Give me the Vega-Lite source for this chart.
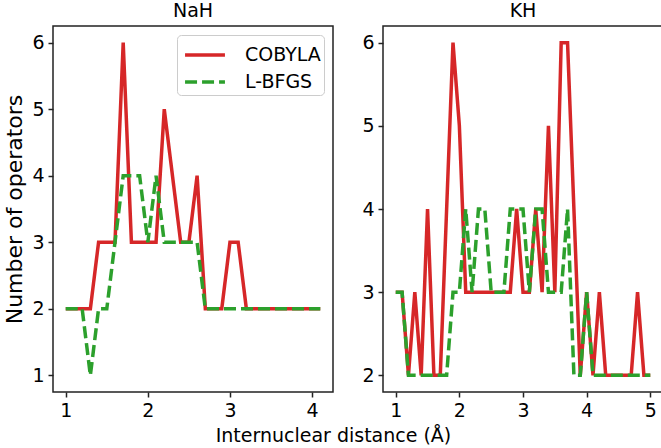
{
  "$schema": "https://vega.github.io/schema/vega-lite/v6.json",
  "padding": {"left": 3, "top": 1, "right": 3, "bottom": 3},
  "background": "white",
  "datasets": {
    "ops": [
      {"mol": "NaH", "method": "COBYLA", "d": 1.0, "n": 2},
      {"mol": "NaH", "method": "COBYLA", "d": 1.1, "n": 2},
      {"mol": "NaH", "method": "COBYLA", "d": 1.2, "n": 2},
      {"mol": "NaH", "method": "COBYLA", "d": 1.3, "n": 2},
      {"mol": "NaH", "method": "COBYLA", "d": 1.4, "n": 3},
      {"mol": "NaH", "method": "COBYLA", "d": 1.5, "n": 3},
      {"mol": "NaH", "method": "COBYLA", "d": 1.6, "n": 3},
      {"mol": "NaH", "method": "COBYLA", "d": 1.7, "n": 6},
      {"mol": "NaH", "method": "COBYLA", "d": 1.8, "n": 3},
      {"mol": "NaH", "method": "COBYLA", "d": 1.9, "n": 3},
      {"mol": "NaH", "method": "COBYLA", "d": 2.0, "n": 3},
      {"mol": "NaH", "method": "COBYLA", "d": 2.1, "n": 3},
      {"mol": "NaH", "method": "COBYLA", "d": 2.2, "n": 5},
      {"mol": "NaH", "method": "COBYLA", "d": 2.3, "n": 4},
      {"mol": "NaH", "method": "COBYLA", "d": 2.4, "n": 3},
      {"mol": "NaH", "method": "COBYLA", "d": 2.5, "n": 3},
      {"mol": "NaH", "method": "COBYLA", "d": 2.6, "n": 4},
      {"mol": "NaH", "method": "COBYLA", "d": 2.7, "n": 2},
      {"mol": "NaH", "method": "COBYLA", "d": 2.8, "n": 2},
      {"mol": "NaH", "method": "COBYLA", "d": 2.9, "n": 2},
      {"mol": "NaH", "method": "COBYLA", "d": 3.0, "n": 3},
      {"mol": "NaH", "method": "COBYLA", "d": 3.1, "n": 3},
      {"mol": "NaH", "method": "COBYLA", "d": 3.2, "n": 2},
      {"mol": "NaH", "method": "COBYLA", "d": 3.3, "n": 2},
      {"mol": "NaH", "method": "COBYLA", "d": 3.4, "n": 2},
      {"mol": "NaH", "method": "COBYLA", "d": 3.5, "n": 2},
      {"mol": "NaH", "method": "COBYLA", "d": 3.6, "n": 2},
      {"mol": "NaH", "method": "COBYLA", "d": 3.7, "n": 2},
      {"mol": "NaH", "method": "COBYLA", "d": 3.8, "n": 2},
      {"mol": "NaH", "method": "COBYLA", "d": 3.9, "n": 2},
      {"mol": "NaH", "method": "COBYLA", "d": 4.0, "n": 2},
      {"mol": "NaH", "method": "COBYLA", "d": 4.1, "n": 2},
      {"mol": "NaH", "method": "L-BFGS", "d": 1.0, "n": 2},
      {"mol": "NaH", "method": "L-BFGS", "d": 1.1, "n": 2},
      {"mol": "NaH", "method": "L-BFGS", "d": 1.2, "n": 2},
      {"mol": "NaH", "method": "L-BFGS", "d": 1.3, "n": 1},
      {"mol": "NaH", "method": "L-BFGS", "d": 1.4, "n": 2},
      {"mol": "NaH", "method": "L-BFGS", "d": 1.5, "n": 2},
      {"mol": "NaH", "method": "L-BFGS", "d": 1.6, "n": 3},
      {"mol": "NaH", "method": "L-BFGS", "d": 1.7, "n": 4},
      {"mol": "NaH", "method": "L-BFGS", "d": 1.8, "n": 4},
      {"mol": "NaH", "method": "L-BFGS", "d": 1.9, "n": 4},
      {"mol": "NaH", "method": "L-BFGS", "d": 2.0, "n": 3},
      {"mol": "NaH", "method": "L-BFGS", "d": 2.1, "n": 4},
      {"mol": "NaH", "method": "L-BFGS", "d": 2.2, "n": 3},
      {"mol": "NaH", "method": "L-BFGS", "d": 2.3, "n": 3},
      {"mol": "NaH", "method": "L-BFGS", "d": 2.4, "n": 3},
      {"mol": "NaH", "method": "L-BFGS", "d": 2.5, "n": 3},
      {"mol": "NaH", "method": "L-BFGS", "d": 2.6, "n": 3},
      {"mol": "NaH", "method": "L-BFGS", "d": 2.7, "n": 2},
      {"mol": "NaH", "method": "L-BFGS", "d": 2.8, "n": 2},
      {"mol": "NaH", "method": "L-BFGS", "d": 2.9, "n": 2},
      {"mol": "NaH", "method": "L-BFGS", "d": 3.0, "n": 2},
      {"mol": "NaH", "method": "L-BFGS", "d": 3.1, "n": 2},
      {"mol": "NaH", "method": "L-BFGS", "d": 3.2, "n": 2},
      {"mol": "NaH", "method": "L-BFGS", "d": 3.3, "n": 2},
      {"mol": "NaH", "method": "L-BFGS", "d": 3.4, "n": 2},
      {"mol": "NaH", "method": "L-BFGS", "d": 3.5, "n": 2},
      {"mol": "NaH", "method": "L-BFGS", "d": 3.6, "n": 2},
      {"mol": "NaH", "method": "L-BFGS", "d": 3.7, "n": 2},
      {"mol": "NaH", "method": "L-BFGS", "d": 3.8, "n": 2},
      {"mol": "NaH", "method": "L-BFGS", "d": 3.9, "n": 2},
      {"mol": "NaH", "method": "L-BFGS", "d": 4.0, "n": 2},
      {"mol": "NaH", "method": "L-BFGS", "d": 4.1, "n": 2},
      {"mol": "KH", "method": "COBYLA", "d": 1.0, "n": 3},
      {"mol": "KH", "method": "COBYLA", "d": 1.1, "n": 3},
      {"mol": "KH", "method": "COBYLA", "d": 1.2, "n": 2},
      {"mol": "KH", "method": "COBYLA", "d": 1.3, "n": 3},
      {"mol": "KH", "method": "COBYLA", "d": 1.4, "n": 2},
      {"mol": "KH", "method": "COBYLA", "d": 1.5, "n": 4},
      {"mol": "KH", "method": "COBYLA", "d": 1.6, "n": 2},
      {"mol": "KH", "method": "COBYLA", "d": 1.7, "n": 2},
      {"mol": "KH", "method": "COBYLA", "d": 1.8, "n": 4},
      {"mol": "KH", "method": "COBYLA", "d": 1.9, "n": 6},
      {"mol": "KH", "method": "COBYLA", "d": 2.0, "n": 5},
      {"mol": "KH", "method": "COBYLA", "d": 2.1, "n": 3},
      {"mol": "KH", "method": "COBYLA", "d": 2.2, "n": 3},
      {"mol": "KH", "method": "COBYLA", "d": 2.3, "n": 3},
      {"mol": "KH", "method": "COBYLA", "d": 2.4, "n": 3},
      {"mol": "KH", "method": "COBYLA", "d": 2.5, "n": 3},
      {"mol": "KH", "method": "COBYLA", "d": 2.6, "n": 3},
      {"mol": "KH", "method": "COBYLA", "d": 2.7, "n": 3},
      {"mol": "KH", "method": "COBYLA", "d": 2.8, "n": 3},
      {"mol": "KH", "method": "COBYLA", "d": 2.9, "n": 4},
      {"mol": "KH", "method": "COBYLA", "d": 3.0, "n": 3},
      {"mol": "KH", "method": "COBYLA", "d": 3.1, "n": 3},
      {"mol": "KH", "method": "COBYLA", "d": 3.2, "n": 4},
      {"mol": "KH", "method": "COBYLA", "d": 3.3, "n": 3},
      {"mol": "KH", "method": "COBYLA", "d": 3.4, "n": 5},
      {"mol": "KH", "method": "COBYLA", "d": 3.5, "n": 3},
      {"mol": "KH", "method": "COBYLA", "d": 3.6, "n": 6},
      {"mol": "KH", "method": "COBYLA", "d": 3.7, "n": 6},
      {"mol": "KH", "method": "COBYLA", "d": 3.8, "n": 4},
      {"mol": "KH", "method": "COBYLA", "d": 3.9, "n": 2},
      {"mol": "KH", "method": "COBYLA", "d": 4.0, "n": 3},
      {"mol": "KH", "method": "COBYLA", "d": 4.1, "n": 2},
      {"mol": "KH", "method": "COBYLA", "d": 4.2, "n": 3},
      {"mol": "KH", "method": "COBYLA", "d": 4.3, "n": 2},
      {"mol": "KH", "method": "COBYLA", "d": 4.4, "n": 2},
      {"mol": "KH", "method": "COBYLA", "d": 4.5, "n": 2},
      {"mol": "KH", "method": "COBYLA", "d": 4.6, "n": 2},
      {"mol": "KH", "method": "COBYLA", "d": 4.7, "n": 2},
      {"mol": "KH", "method": "COBYLA", "d": 4.8, "n": 3},
      {"mol": "KH", "method": "COBYLA", "d": 4.9, "n": 2},
      {"mol": "KH", "method": "COBYLA", "d": 5.0, "n": 2},
      {"mol": "KH", "method": "L-BFGS", "d": 1.0, "n": 3},
      {"mol": "KH", "method": "L-BFGS", "d": 1.1, "n": 3},
      {"mol": "KH", "method": "L-BFGS", "d": 1.2, "n": 2},
      {"mol": "KH", "method": "L-BFGS", "d": 1.3, "n": 2},
      {"mol": "KH", "method": "L-BFGS", "d": 1.4, "n": 2},
      {"mol": "KH", "method": "L-BFGS", "d": 1.5, "n": 2},
      {"mol": "KH", "method": "L-BFGS", "d": 1.6, "n": 2},
      {"mol": "KH", "method": "L-BFGS", "d": 1.7, "n": 2},
      {"mol": "KH", "method": "L-BFGS", "d": 1.8, "n": 2},
      {"mol": "KH", "method": "L-BFGS", "d": 1.9, "n": 3},
      {"mol": "KH", "method": "L-BFGS", "d": 2.0, "n": 3},
      {"mol": "KH", "method": "L-BFGS", "d": 2.1, "n": 4},
      {"mol": "KH", "method": "L-BFGS", "d": 2.2, "n": 3},
      {"mol": "KH", "method": "L-BFGS", "d": 2.3, "n": 4},
      {"mol": "KH", "method": "L-BFGS", "d": 2.4, "n": 4},
      {"mol": "KH", "method": "L-BFGS", "d": 2.5, "n": 3},
      {"mol": "KH", "method": "L-BFGS", "d": 2.6, "n": 3},
      {"mol": "KH", "method": "L-BFGS", "d": 2.7, "n": 3},
      {"mol": "KH", "method": "L-BFGS", "d": 2.8, "n": 4},
      {"mol": "KH", "method": "L-BFGS", "d": 2.9, "n": 4},
      {"mol": "KH", "method": "L-BFGS", "d": 3.0, "n": 4},
      {"mol": "KH", "method": "L-BFGS", "d": 3.1, "n": 3},
      {"mol": "KH", "method": "L-BFGS", "d": 3.2, "n": 4},
      {"mol": "KH", "method": "L-BFGS", "d": 3.3, "n": 4},
      {"mol": "KH", "method": "L-BFGS", "d": 3.4, "n": 3},
      {"mol": "KH", "method": "L-BFGS", "d": 3.5, "n": 3},
      {"mol": "KH", "method": "L-BFGS", "d": 3.6, "n": 3},
      {"mol": "KH", "method": "L-BFGS", "d": 3.7, "n": 4},
      {"mol": "KH", "method": "L-BFGS", "d": 3.8, "n": 2},
      {"mol": "KH", "method": "L-BFGS", "d": 3.9, "n": 2},
      {"mol": "KH", "method": "L-BFGS", "d": 4.0, "n": 3},
      {"mol": "KH", "method": "L-BFGS", "d": 4.1, "n": 2},
      {"mol": "KH", "method": "L-BFGS", "d": 4.2, "n": 2},
      {"mol": "KH", "method": "L-BFGS", "d": 4.3, "n": 2},
      {"mol": "KH", "method": "L-BFGS", "d": 4.4, "n": 2},
      {"mol": "KH", "method": "L-BFGS", "d": 4.5, "n": 2},
      {"mol": "KH", "method": "L-BFGS", "d": 4.6, "n": 2},
      {"mol": "KH", "method": "L-BFGS", "d": 4.7, "n": 2},
      {"mol": "KH", "method": "L-BFGS", "d": 4.8, "n": 2},
      {"mol": "KH", "method": "L-BFGS", "d": 4.9, "n": 2},
      {"mol": "KH", "method": "L-BFGS", "d": 5.0, "n": 2}
    ]
  },
  "config": {
    "font": "DejaVu Sans",
    "view": {"stroke": "#222222", "strokeWidth": 1.5},
    "axis": {
      "grid": false, "domain": false,
      "tickColor": "#222222", "tickWidth": 1.5, "tickSize": 5,
      "labelFontSize": 19, "labelColor": "black", "labelFont": "DejaVu Sans", "labelPadding": 4,
      "titleFontSize": 19, "titleFont": "DejaVu Sans", "titleFontWeight": "normal", "titleColor": "black"
    },
    "title": {"fontSize": 19, "fontWeight": "normal", "font": "DejaVu Sans", "color": "black"},
    "concat": {"spacing": 27}
  },
  "title": {"text": "Internuclear distance (Å)", "orient": "bottom", "anchor": "middle", "offset": 6},
  "hconcat": [
    {
      "title": {"text": "NaH", "offset": 5},
      "width": 280,
      "height": 366,
      "data": {"name": "ops"},
      "transform": [{"filter": "datum.mol === 'NaH'"}],
      "mark": {"type": "line", "strokeWidth": 3.5, "clip": true},
      "encoding": {
        "x": {"field": "d", "type": "quantitative", "scale": {"domain": [0.845, 4.255], "nice": false, "zero": false}, "axis": {"values": [1, 2, 3, 4], "title": null}},
        "y": {"field": "n", "type": "quantitative", "scale": {"domain": [0.75, 6.25], "nice": false, "zero": false}, "axis": {"values": [1, 2, 3, 4, 5, 6], "title": "Number of operators", "titlePadding": 5, "titleFontSize": 22}},
        "color": {"field": "method", "type": "nominal", "scale": {"domain": ["COBYLA", "L-BFGS"], "range": ["#d62728", "#2ca02c"]},
          "legend": {"title": null, "orient": "top-right", "offset": 9, "symbolType": "M-1.33,0H1.33", "symbolSize": 900, "symbolOffset": 8, "symbolStrokeWidth": 3.5, "labelFontSize": 19, "labelFont": "DejaVu Sans", "labelColor": "black", "labelOffset": 23, "padding": 3, "fillColor": "white", "strokeColor": "#cccccc", "cornerRadius": 4, "rowPadding": -1}},
        "strokeDash": {"field": "method", "type": "nominal", "scale": {"domain": ["COBYLA", "L-BFGS"], "range": [[1, 0], [12, 5]]},
          "legend": {"title": null, "orient": "top-right", "offset": 9, "symbolType": "M-1.33,0H1.33", "symbolSize": 900, "symbolOffset": 8, "symbolStrokeWidth": 3.5, "labelFontSize": 19, "labelFont": "DejaVu Sans", "labelColor": "black", "labelOffset": 23, "padding": 3, "fillColor": "white", "strokeColor": "#cccccc", "cornerRadius": 4, "rowPadding": -1}}
      }
    },
    {
      "title": {"text": "KH", "offset": 5},
      "width": 280,
      "height": 366,
      "data": {"name": "ops"},
      "transform": [{"filter": "datum.mol === 'KH'"}],
      "mark": {"type": "line", "strokeWidth": 3.5, "clip": true},
      "encoding": {
        "x": {"field": "d", "type": "quantitative", "scale": {"domain": [0.8, 5.2], "nice": false, "zero": false}, "axis": {"values": [1, 2, 3, 4, 5], "title": null}},
        "y": {"field": "n", "type": "quantitative", "scale": {"domain": [1.8, 6.2], "nice": false, "zero": false}, "axis": {"values": [2, 3, 4, 5, 6], "title": null}},
        "color": {"field": "method", "type": "nominal", "scale": {"domain": ["COBYLA", "L-BFGS"], "range": ["#d62728", "#2ca02c"]}, "legend": null},
        "strokeDash": {"field": "method", "type": "nominal", "scale": {"domain": ["COBYLA", "L-BFGS"], "range": [[1, 0], [12, 5]]}, "legend": null}
      }
    }
  ],
  "resolve": {
    "scale": {"x": "independent", "y": "independent", "color": "independent", "strokeDash": "independent"},
    "legend": {"color": "independent", "strokeDash": "independent"}
  }
}
